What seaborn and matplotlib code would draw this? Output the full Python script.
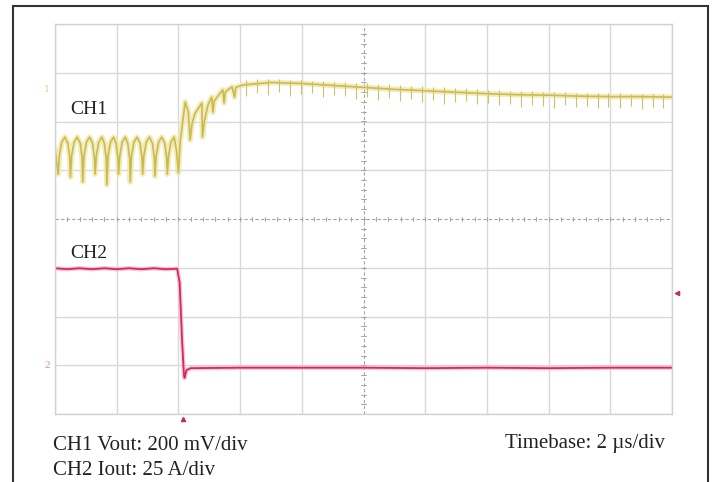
import numpy as np
import pandas as pd
import seaborn as sns
import matplotlib.pyplot as plt
from matplotlib.patches import Rectangle

# CH1 Vout trace (x in divisions, y in divisions, 0 = bottom of screen)
ch1_t = [0.00, 0.02, 0.05, 0.07, 0.11, 0.16, 0.21, 0.24,
         0.25, 0.27, 0.31, 0.36, 0.41, 0.44,
         0.45, 0.47, 0.51, 0.56, 0.61, 0.64,
         0.65, 0.67, 0.71, 0.76, 0.80, 0.83,
         0.84, 0.86, 0.90, 0.95, 0.99, 1.02,
         1.03, 1.05, 1.09, 1.14, 1.18, 1.21,
         1.22, 1.24, 1.28, 1.33, 1.38, 1.41,
         1.42, 1.44, 1.48, 1.53, 1.58, 1.61,
         1.62, 1.64, 1.68, 1.73, 1.78, 1.81,
         1.82, 1.84, 1.88, 1.93, 1.97, 2.00,
         2.03, 2.11, 2.16, 2.19, 2.22, 2.27, 2.38, 2.39, 2.42, 2.48,
         2.54, 2.56, 2.58, 2.64, 2.72, 2.74, 2.76, 2.80, 2.87, 2.91,
         2.93, 3.05, 3.50, 4.00, 4.50, 5.00, 5.50, 6.00, 6.50, 7.00,
         7.50, 8.00, 8.50, 9.00, 9.50, 10.00]
ch1_v = [5.45, 5.25, 4.92, 5.30, 5.58, 5.68, 5.55, 5.25,
         4.86, 5.30, 5.58, 5.68, 5.55, 5.25,
         4.76, 5.30, 5.58, 5.68, 5.55, 5.25,
         4.92, 5.30, 5.58, 5.68, 5.55, 5.25,
         4.70, 5.30, 5.58, 5.68, 5.55, 5.25,
         4.92, 5.30, 5.58, 5.68, 5.55, 5.25,
         4.76, 5.30, 5.58, 5.68, 5.55, 5.25,
         4.92, 5.30, 5.58, 5.68, 5.55, 5.25,
         4.88, 5.30, 5.58, 5.68, 5.55, 5.25,
         4.92, 5.30, 5.58, 5.68, 5.40, 4.95,
         5.60, 6.40, 6.20, 5.62, 5.95, 6.17, 6.38, 5.68, 6.00, 6.34,
         6.50, 6.19, 6.42, 6.52, 6.65, 6.38, 6.60, 6.65, 6.71, 6.50,
         6.70, 6.75, 6.80, 6.78, 6.74, 6.70, 6.66, 6.63, 6.60, 6.57,
         6.55, 6.54, 6.52, 6.51, 6.51, 6.50]

# switching spikes on CH1 after the step
spike_t = [3.10, 3.28, 3.46, 3.63, 3.81, 3.99, 4.17, 4.35, 4.52, 4.70,
           4.88, 5.06, 5.24, 5.41, 5.59, 5.77, 5.95, 6.13, 6.30, 6.48,
           6.66, 6.84, 7.02, 7.19, 7.37, 7.55, 7.73, 7.91, 8.08, 8.26,
           8.44, 8.62, 8.80, 8.97, 9.15, 9.33, 9.51, 9.69, 9.86]
spike_lo = [6.52, 6.58, 6.55, 6.60, 6.52, 6.56, 6.58, 6.50, 6.55, 6.52,
            6.46, 6.50, 6.44, 6.48, 6.42, 6.46, 6.40, 6.44, 6.36, 6.40,
            6.42, 6.35, 6.38, 6.34, 6.36, 6.30, 6.34, 6.32, 6.28, 6.34,
            6.30, 6.32, 6.27, 6.30, 6.28, 6.31, 6.26, 6.30, 6.28]
spike_hi = [6.86, 6.88, 6.88, 6.87, 6.86, 6.86, 6.84, 6.83, 6.82, 6.82,
            6.79, 6.78, 6.76, 6.76, 6.74, 6.73, 6.72, 6.71, 6.70, 6.68,
            6.68, 6.66, 6.65, 6.64, 6.63, 6.62, 6.62, 6.61, 6.60, 6.60,
            6.59, 6.59, 6.58, 6.58, 6.58, 6.57, 6.57, 6.57, 6.56]

# CH2 Iout trace
ch2_t = [0.00, 0.20, 0.40, 0.60, 0.80, 1.00, 1.20, 1.40, 1.60, 1.80, 1.98,
         2.02, 2.06, 2.09, 2.10, 2.13, 2.20, 3.00, 4.00, 5.00, 6.00, 7.00,
         8.00, 9.00, 10.00]
ch2_v = [2.99, 2.97, 2.99, 2.97, 2.99, 2.97, 2.99, 2.97, 2.99, 2.97, 2.98,
         2.70, 1.50, 0.80, 0.74, 0.90, 0.94, 0.95, 0.95, 0.95, 0.94, 0.95,
         0.94, 0.95, 0.95]

ch1 = pd.DataFrame({'t': ch1_t, 'v': ch1_v})
ch2 = pd.DataFrame({'t': ch2_t, 'v': ch2_v})

sns.set_style('white')
plt.rcParams['font.family'] = ['Liberation Serif', 'DejaVu Serif']

fig = plt.figure(figsize=(7.14, 4.82), dpi=100)
ax = fig.add_axes([55/714, 68/482, 617/714, 390/482])
ax.set_xlim(0, 10)
ax.set_ylim(0, 8)

# graticule
for x in range(11):
    if x != 5:
        ax.axvline(x, color='#d9d9d9', lw=1.0, zorder=0)
for y in range(9):
    if y != 4:
        ax.axhline(y, color='#d9d9d9', lw=1.0, zorder=0)
ax.axvline(5, color='#a5a5a5', lw=0.8, ls=(0, (3, 2)), zorder=0)
ax.axhline(4, color='#a5a5a5', lw=0.8, ls=(0, (3, 2)), zorder=0)
for m in np.arange(0.2, 10, 0.2):
    ax.plot([m, m], [3.95, 4.05], color='#a5a5a5', lw=0.7, zorder=0)
for m in np.arange(0.2, 8, 0.2):
    ax.plot([4.96, 5.04], [m, m], color='#a5a5a5', lw=0.7, zorder=0)
ax.set_xticks([])
ax.set_yticks([])
for s in ax.spines.values():
    s.set_color('#d2d2d2')
    s.set_linewidth(1.0)

# traces
sns.lineplot(data=ch1, x='t', y='v', sort=False, estimator=None, ax=ax,
             color='#efe8ac', lw=4.0, alpha=0.8)
sns.lineplot(data=ch1, x='t', y='v', sort=False, estimator=None, ax=ax,
             color='#cbba4e', lw=1.2)
ax.vlines(spike_t, spike_lo, spike_hi, color='#cfc063', lw=0.8)
sns.lineplot(data=ch2, x='t', y='v', sort=False, estimator=None, ax=ax,
             color='#f3b2c6', lw=3.2, alpha=0.7)
sns.lineplot(data=ch2, x='t', y='v', sort=False, estimator=None, ax=ax,
             color='#d42a5f', lw=1.3)
ax.set_xlabel('')
ax.set_ylabel('')

# channel markers
ax.text(-0.13, 6.65, '1', color='#ddd283', fontsize=8, ha='center',
        va='center', clip_on=False)
ax.text(-0.13, 1.0, '2', color='#e58aa6', fontsize=8, ha='center',
        va='center', clip_on=False)
ax.plot(10.08, 2.48, marker='<', ms=3, color='#c0305e', clip_on=False)
ax.plot(2.07, -0.11, marker='^', ms=3, color='#c0305e', clip_on=False)

ax.text(0.24, 6.24, 'CH1', fontsize=14, color='#222222', va='center')
ax.text(0.24, 3.30, 'CH2', fontsize=14, color='#222222', va='center')

fig.text(53/714, 1 - 450/482, 'CH1 Vout: 200 mV/div', fontsize=15,
         color='#222222', va='baseline')
fig.text(53/714, 1 - 475/482, 'CH2 Iout: 25 A/div', fontsize=15,
         color='#222222', va='baseline')
fig.text(665/714, 1 - 448/482, 'Timebase: 2 \u00b5s/div', fontsize=15,
         color='#222222', va='baseline', ha='right')

# outer frame
fig.add_artist(Rectangle((13/714, -0.05), 695/714, 1 - 6/482 + 0.05,
                         transform=fig.transFigure, fill=False,
                         edgecolor='#333333', lw=1.5))

plt.savefig('out.png', dpi=100)
